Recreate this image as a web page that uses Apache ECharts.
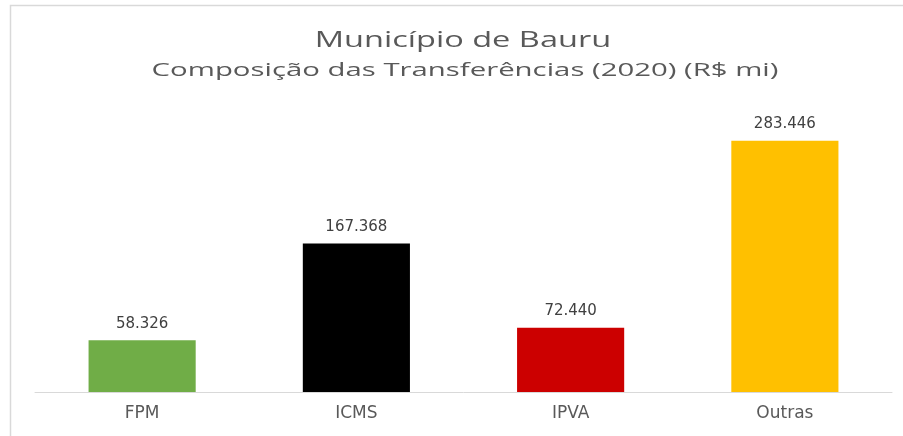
<!DOCTYPE html>
<html><head><meta charset="utf-8">
<script src="https://cdn.jsdelivr.net/npm/echarts@6/dist/echarts.min.js"></script>
<style>html,body{margin:0;padding:0;background:#fff;}#c{width:903px;height:436px;}</style>
</head><body><div id="c"></div>
<script>
const titleText = 'Município de Bauru';
const subtitleText = 'Composição das Transferências (2020) (R$ mi)';
const categories = ['FPM', 'ICMS', 'IPVA', 'Outras'];
const values = [58.326, 167.368, 72.440, 283.446];
const barColors = ['#70ad47', '#000000', '#cc0000', '#ffc000'];

const fmt = v => v.toFixed(3);
const chart = echarts.init(document.getElementById('c'), null, {renderer: 'canvas'});
chart.setOption({
  animation: false,
  backgroundColor: '#ffffff',
  graphic: [
    {type: 'rect', shape: {x: 10.5, y: 5.5, width: 900, height: 440}, style: {fill: 'none', stroke: '#d9d9d9', lineWidth: 1.5}, silent: true},
    {type: 'text', x: 463, y: 41, scaleX: 1.55, style: {text: titleText, font: '21px "Open Sans"', fill: '#595959', align: 'center', verticalAlign: 'middle'}},
    {type: 'text', x: 465, y: 71, scaleX: 1.63, style: {text: subtitleText, font: '18px "Open Sans"', fill: '#595959', align: 'center', verticalAlign: 'middle'}}
  ],
  grid: {left: 35, right: 11, top: 126, bottom: 44, containLabel: false},
  xAxis: {
    type: 'category', data: categories,
    axisLine: {lineStyle: {color: '#d9d9d9', width: 1}},
    axisTick: {show: false},
    axisLabel: {color: '#595959', fontFamily: 'DejaVu Sans', fontSize: 17, margin: 13}
  },
  yAxis: {type: 'value', min: 0, max: 300, show: false, splitLine: {show: false}},
  series: [{
    type: 'bar', barWidth: '50%',
    data: values.map((v, i) => ({value: v, itemStyle: {color: barColors[i]}})),
    label: {show: true, position: 'top', distance: 9, color: '#404040', fontFamily: 'DejaVu Sans', fontSize: 15,
      formatter: p => fmt(p.value)}
  }]
});
</script></body></html>
